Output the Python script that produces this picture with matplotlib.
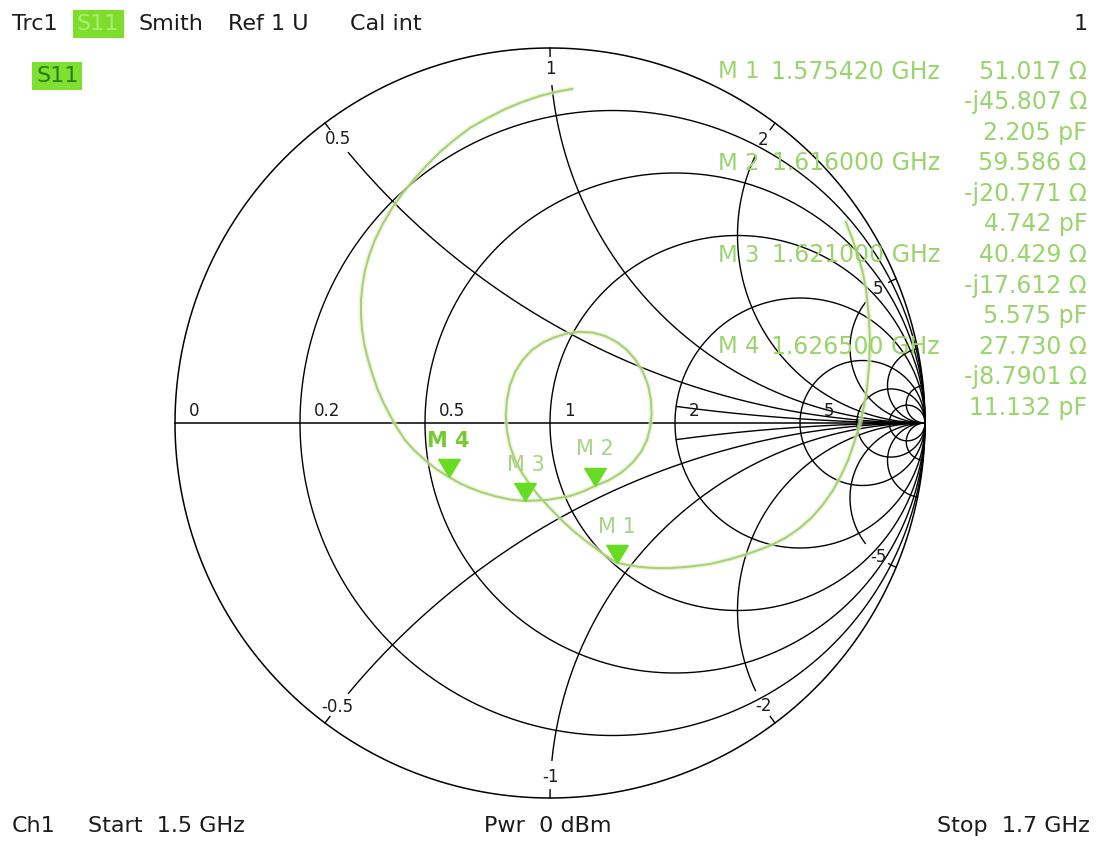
import numpy as np
import matplotlib
matplotlib.use("Agg")
import matplotlib.pyplot as plt

plt.rcParams["font.family"] = ["DejaVu Sans"]

# --- data ---
marker_names = ["M 1", "M 2", "M 3", "M 4"]
marker_freq_ghz = [1.575420, 1.616000, 1.621000, 1.626500]
marker_r_ohm = [51.017, 59.586, 40.429, 27.730]
marker_x_ohm = [-45.807, -20.771, -17.612, -8.7901]
marker_c_pf = [2.205, 4.742, 5.575, 11.132]

# S11 trace (reflection coefficient, 1.5 GHz -> 1.7 GHz)
trace_re = [0.789, 0.806, 0.821, 0.834, 0.843, 0.850, 0.853, 0.851, 0.845, 0.837,
            0.827, 0.812, 0.795, 0.776, 0.755, 0.729, 0.699, 0.665, 0.627, 0.582,
            0.533, 0.481, 0.427, 0.373, 0.320, 0.280, 0.240, 0.209, 0.179, 0.150,
            0.120, 0.090, 0.059, 0.029, 0.000, -0.028, -0.053, -0.075, -0.093, -0.107,
            -0.115, -0.118, -0.115, -0.107, -0.093, -0.073, -0.048, -0.018, 0.013, 0.046,
            0.080, 0.114, 0.147, 0.178, 0.205, 0.229, 0.248, 0.262, 0.269, 0.271,
            0.267, 0.258, 0.243, 0.220, 0.192, 0.158, 0.120, 0.087, 0.053, -0.007,
            -0.067, -0.107, -0.147, -0.181, -0.213, -0.242, -0.269, -0.302, -0.333, -0.362,
            -0.387, -0.408, -0.427, -0.444, -0.459, -0.473, -0.485, -0.495, -0.501, -0.504,
            -0.504, -0.500, -0.493, -0.482, -0.467, -0.446, -0.421, -0.392, -0.360, -0.327,
            -0.293, -0.254, -0.213, -0.167, -0.120, -0.074, -0.027, 0.016, 0.059]
trace_im = [0.536, 0.492, 0.448, 0.402, 0.355, 0.288, 0.221, 0.155, 0.088, 0.044,
            0.000, -0.050, -0.099, -0.140, -0.179, -0.216, -0.251, -0.281, -0.307, -0.329,
            -0.347, -0.363, -0.376, -0.383, -0.387, -0.387, -0.384, -0.379, -0.373, -0.355,
            -0.333, -0.310, -0.285, -0.257, -0.227, -0.197, -0.165, -0.133, -0.099, -0.060,
            -0.019, 0.021, 0.061, 0.100, 0.136, 0.168, 0.195, 0.215, 0.229, 0.239,
            0.243, 0.241, 0.232, 0.216, 0.195, 0.167, 0.136, 0.099, 0.061, 0.024,
            -0.013, -0.047, -0.077, -0.106, -0.131, -0.152, -0.168, -0.183, -0.195, -0.205,
            -0.208, -0.204, -0.195, -0.185, -0.173, -0.160, -0.144, -0.124, -0.099, -0.073,
            -0.045, -0.013, 0.021, 0.054, 0.088, 0.128, 0.168, 0.208, 0.248, 0.288,
            0.328, 0.368, 0.408, 0.448, 0.488, 0.531, 0.573, 0.614, 0.653, 0.689,
            0.723, 0.756, 0.787, 0.813, 0.837, 0.856, 0.872, 0.883, 0.891]

r_circles = [0.2, 0.5, 1, 2, 5, 10, 20]
r_labels = ["0", "0.2", "0.5", "1", "2", "5"]
x_labeled = [0.5, 1, 2, 5]
x_inner = [0.2]        # drawn from the r=2 circle only
x_outer = [10, 20]     # unlabeled arcs near the rim

header = ["Trc1", "S11", "Smith", "Ref 1 U", "Cal int"]
z0 = 50.0

# --- layout (pixels) ---
W, H = 1099, 844
CX, CY, RAD = 550, 423, 375
GRID = "black"
TRACE = "#a6cf72"
MARK = "#66dd22"
READ = "#9ad46c"
INK = "#1c1c1c"

fig = plt.figure(figsize=(W / 100, H / 100), dpi=100)
ax = fig.add_axes([0, 0, 1, 1])
ax.set_xlim(-CX / RAD, (W - CX) / RAD)
ax.set_ylim((CY - H) / RAD, CY / RAD)
ax.axis("off")


def ftext(x, y, s, **kw):
    kw.setdefault("va", "center")
    return fig.text(x / W, 1 - y / H, s, **kw)


def gamma(z):
    return (z - 1) / (z + 1)


# outer circle + resistance circles
t = np.linspace(0, 2 * np.pi, 800)
ax.plot(np.cos(t), np.sin(t), color=GRID, lw=1.1)
for r in r_circles:
    c, rad = r / (1 + r), 1 / (1 + r)
    ax.plot(c + rad * np.cos(t), rad * np.sin(t), color=GRID, lw=1.0)
ax.plot([-1, 1], [0, 0], color=GRID, lw=1.1)

for lab, r in zip(r_labels, [0] + r_circles[:5]):
    dx = 17 if r == 5 else 10
    ax.annotate(lab, xy=((r - 1) / (r + 1), 0), xytext=(dx, 5), textcoords="offset points",
                ha="left", va="baseline", fontsize=12, color=INK)

rr = np.concatenate([[0.0], np.logspace(-3, 4, 1500)])

# labeled reactance arcs: gap near the rim for the label, small tick at the rim
for xv in x_labeled:
    for s in (1, -1):
        g = gamma(rr + 1j * s * xv)
        near = rr < np.sqrt(1 + xv ** 2)
        body = ~(near & (np.abs(g) > 0.90))
        ax.plot(g.real[body], g.imag[body], color=GRID, lw=1.0)
        tick = near & (np.abs(g) >= 0.978)
        ax.plot(g.real[tick], g.imag[tick], color=GRID, lw=1.0)
        gn = g[near]
        p = gn[np.argmin(np.abs(np.abs(gn) - 0.945))]
        lab = ("%g" % xv) if s > 0 else ("-%g" % xv)
        ax.text(p.real, p.imag, lab, ha="center", va="center", fontsize=12, color=INK)

for xv in x_inner:
    for s in (1, -1):
        g = gamma(rr[rr >= 2] + 1j * s * xv)
        ax.plot(g.real, g.imag, color=GRID, lw=1.0)

for xv in x_outer:
    for s in (1, -1):
        g = gamma(rr + 1j * s * xv)
        ax.plot(g.real, g.imag, color=GRID, lw=1.0)

# trace
ax.plot(trace_re, trace_im, color="#dcefc6", lw=3.4, alpha=0.6, solid_capstyle="round")
ax.plot(trace_re, trace_im, color=TRACE, lw=1.4)

# markers (triangle with its tip on the point)
tri = [(0, 0), (-0.6, 1), (0.6, 1), (0, 0)]
for i, name in enumerate(marker_names):
    g = gamma((marker_r_ohm[i] + 1j * marker_x_ohm[i]) / z0)
    ax.plot(g.real, g.imag, marker=tri, ms=26, color=MARK, mec=MARK, ls="none")
    active = i == len(marker_names) - 1
    ax.annotate(name, xy=(g.real, g.imag), xytext=(0, 26), textcoords="offset points",
                ha="center", va="center", fontsize=15,
                color="#74cc34" if active else "#a6d487",
                fontweight="bold" if active else "normal")

# marker readout
step = 30.5
for i, name in enumerate(marker_names):
    y0 = 72 + 3 * i * step
    ftext(718, y0, name, ha="left", fontsize=16.5, color=READ)
    ftext(940, y0, "%.6f GHz" % marker_freq_ghz[i], ha="right", fontsize=17, color=READ)
    ftext(1087, y0, "%#.5g \u03a9" % marker_r_ohm[i], ha="right", fontsize=17, color=READ)
    ftext(1087, y0 + step, "-j%#.5g \u03a9" % abs(marker_x_ohm[i]), ha="right", fontsize=17, color=READ)
    ftext(1087, y0 + 2 * step, "%.3f pF" % marker_c_pf[i], ha="right", fontsize=17, color=READ)

# header / footer
hx = [12, 77, 138, 228, 350]
for x, s in zip(hx, header):
    if s == "S11":
        ftext(x, 24, s, ha="left", fontsize=16, color="#a8ee70",
              bbox=dict(facecolor="#7edc2c", edgecolor="none", pad=3))
    else:
        ftext(x, 24, s, ha="left", fontsize=16, color=INK)
ftext(1088, 24, "1", ha="right", fontsize=16, color=INK)
ftext(36, 76, "S11", ha="left", fontsize=16, color="#2d7a14",
      bbox=dict(facecolor="#80e030", edgecolor="none", pad=2.5))

ftext(12, 826, "Ch1", ha="left", fontsize=16, color=INK)
ftext(88, 826, "Start  1.5 GHz", ha="left", fontsize=16, color=INK)
ftext(548, 826, "Pwr  0 dBm", ha="center", fontsize=16, color=INK)
ftext(1090, 826, "Stop  1.7 GHz", ha="right", fontsize=16, color=INK)

fig.savefig("out.png", dpi=100, facecolor="white")
